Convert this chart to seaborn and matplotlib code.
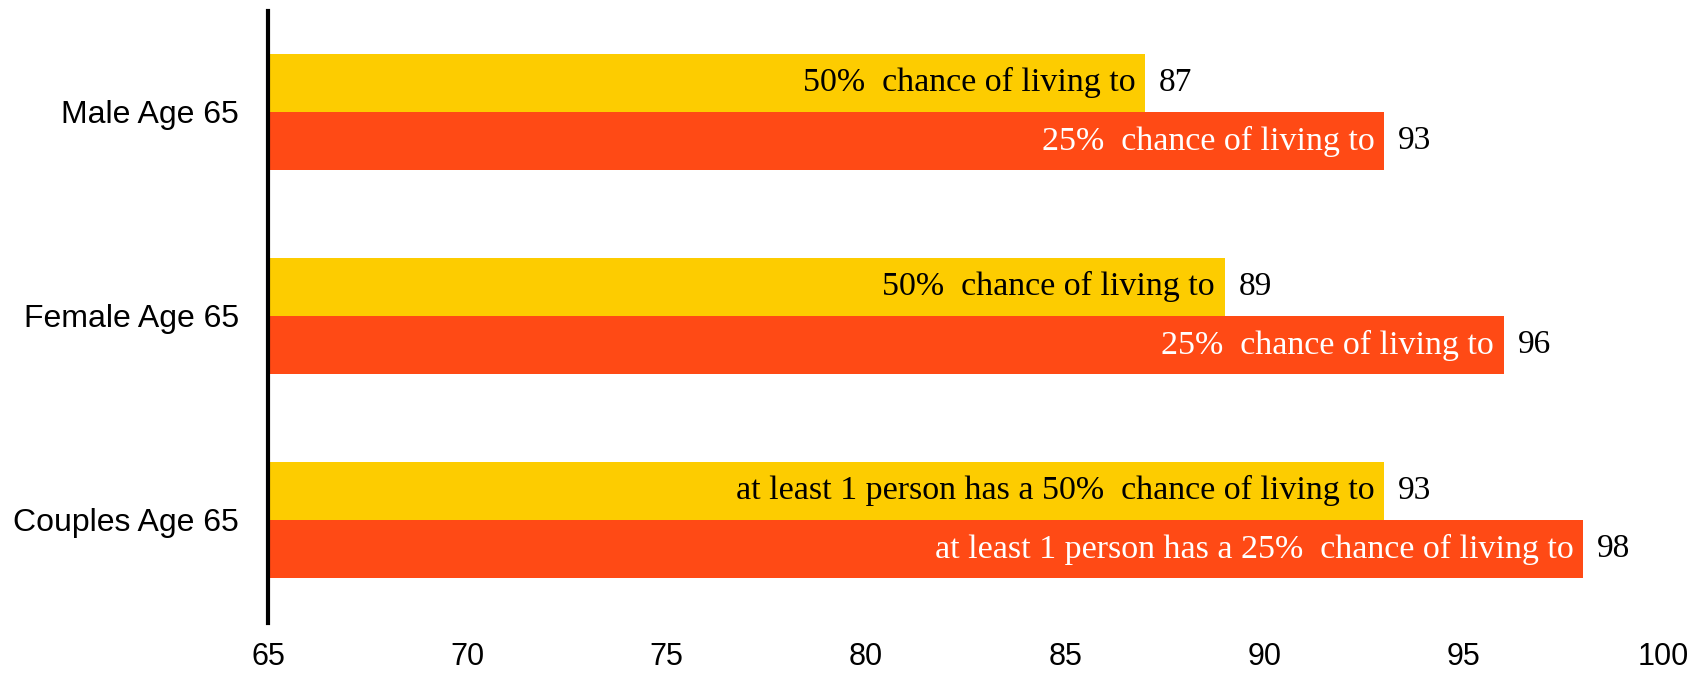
import matplotlib
matplotlib.use("Agg")
import matplotlib.pyplot as plt
import seaborn as sns
import pandas as pd

groups = ["Male Age 65", "Female Age 65", "Couples Age 65"]
series = ["50%", "25%"]
age_50 = [87, 89, 93]
age_25 = [93, 96, 98]
labels_50 = ["50%  chance of living to", "50%  chance of living to",
             "at least 1 person has a 50%  chance of living to"]
labels_25 = ["25%  chance of living to", "25%  chance of living to",
             "at least 1 person has a 25%  chance of living to"]
x_ticks = [65, 70, 75, 80, 85, 90, 95, 100]

colors = {"50%": "#FDCC00", "25%": "#FF4A15"}
text_colors = {"50%": "black", "25%": "white"}

df = pd.DataFrame({
    "group": groups * 2,
    "series": [series[0]] * 3 + [series[1]] * 3,
    "age": age_50 + age_25,
    "label": labels_50 + labels_25,
})

sns.set_style("white")
fig = plt.figure(figsize=(16.92, 6.73), dpi=100)
ax = fig.add_axes([0.1584, 0.075, 0.8245, 0.909])

sns.barplot(data=df, x="age", y="group", hue="series", order=groups,
            hue_order=series, palette=colors, orient="h", width=0.572,
            dodge=True, legend=False, ax=ax, saturation=1, linewidth=0)

ax.set_xlim(65, 100)
ax.set_ylim(2.503, -0.496)
ax.set_xticks(x_ticks)
ax.set_xticklabels([str(t) for t in x_ticks], fontsize=22,
                   family="Liberation Sans", color="black")
ax.set_yticklabels(groups, fontsize=23, family="Liberation Sans",
                   color="black")
ax.tick_params(axis="y", length=0, pad=21)
ax.tick_params(axis="x", length=0, pad=14)
ax.set_xlabel("")
ax.set_ylabel("")

for s in ["top", "right", "bottom"]:
    ax.spines[s].set_visible(False)
ax.spines["left"].set_color("black")
ax.spines["left"].set_linewidth(3)

# Annotate each bar with its description inside and its value outside
for container, ser in zip(ax.containers, series):
    sub = df[df["series"] == ser].set_index("group").loc[groups]
    for bar, (_, row) in zip(container, sub.iterrows()):
        yc = bar.get_y() + bar.get_height() / 2
        end = bar.get_x() + bar.get_width()
        ax.annotate(row["label"], xy=(end, yc), xytext=(-7, 0),
                    textcoords="offset points", ha="right", va="center",
                    fontsize=24.5, family="Liberation Serif",
                    color=text_colors[ser])
        ax.annotate(f"{row['age']:.0f}", xy=(end, yc), xytext=(10, 0),
                    textcoords="offset points", ha="left", va="center",
                    fontsize=24, family="Liberation Serif", color="black")

fig.savefig("out.png", dpi=100)
